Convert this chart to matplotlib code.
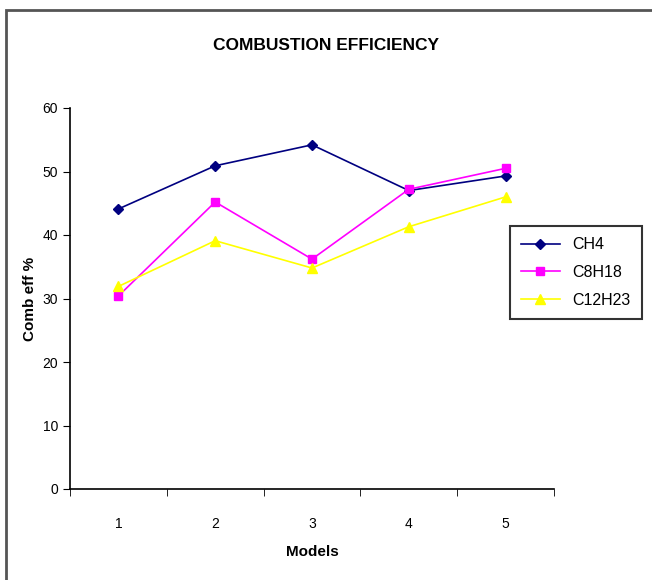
import matplotlib.pyplot as plt
from matplotlib.patches import Rectangle

# data
models = [1, 2, 3, 4, 5]
ch4 = [44.1, 50.9, 54.2, 47.0, 49.3]
c8h18 = [30.4, 45.2, 36.2, 47.2, 50.5]
c12h23 = [31.9, 39.1, 34.8, 41.3, 46.0]

plt.rcParams['font.family'] = ['Liberation Sans', 'DejaVu Sans']

fig = plt.figure(figsize=(6.52, 5.80), dpi=100)
ax = fig.add_axes([70 / 652, 1 - 489 / 580, (554 - 70) / 652, (489 - 108) / 580])

ax.plot(models, ch4, color='#000080', marker='D', markersize=5, linewidth=1.2, label='CH4')
ax.plot(models, c8h18, color='#ff00ff', marker='s', markersize=6, linewidth=1.2, label='C8H18')
ax.plot(models, c12h23, color='#ffff00', marker='^', markersize=7, linewidth=1.2, label='C12H23')

ax.set_xlim(0.5, 5.5)
ax.set_ylim(0, 60)
ax.set_yticks(range(0, 61, 10))
ax.set_xticks(models)
ax.set_xticks([0.5, 1.5, 2.5, 3.5, 4.5, 5.5], minor=True)
ax.tick_params(axis='x', which='major', length=0, pad=20, labelsize=10)
ax.tick_params(axis='x', which='minor', length=5, direction='out')
ax.tick_params(axis='y', length=5, direction='out', labelsize=10)

ax.spines['top'].set_visible(False)
ax.spines['right'].set_visible(False)
ax.spines['left'].set_linewidth(1.2)
ax.spines['bottom'].set_linewidth(1.2)

ax.set_xlabel('Models', fontsize=11, fontweight='bold', labelpad=10)
ax.set_ylabel('Comb eff %', fontsize=11, fontweight='bold', labelpad=4)
fig.text(0.5, 1 - 45 / 580, 'COMBUSTION EFFICIENCY', ha='center', va='center',
         fontsize=12.5, fontweight='bold')

leg = ax.legend(loc='upper left', bbox_to_anchor=(510 / 652, 1 - 226 / 580),
                bbox_transform=fig.transFigure, borderaxespad=0, fancybox=False,
                edgecolor='black', fontsize=11.5, handlelength=2.4, borderpad=0.7,
                labelspacing=0.8)
leg.get_frame().set_linewidth(1.5)

fig.patches.append(Rectangle((6 / 652, -0.1), 1.2, 1 - 10 / 580 + 0.1, transform=fig.transFigure,
                             fill=False, edgecolor='#555555', linewidth=2))

plt.savefig('out.png', dpi=100)
